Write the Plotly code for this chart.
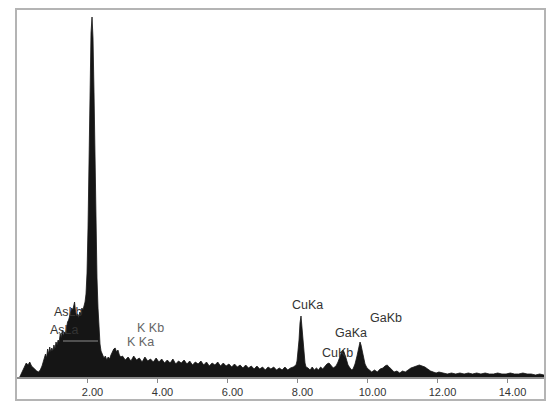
import plotly.graph_objects as go

# Energy (keV) and counts (arbitrary units)
energy_low = [0.05, 0.10, 0.15, 0.20, 0.25, 0.30, 0.35, 0.40, 0.45, 0.50, 0.55, 0.60, 0.65, 0.70,
              0.75, 0.80, 0.83, 0.86, 0.89, 0.92, 0.95, 0.98, 1.01, 1.04, 1.07, 1.10, 1.13, 1.16,
              1.19, 1.22, 1.25, 1.28, 1.31, 1.34, 1.37, 1.40, 1.43, 1.46, 1.49, 1.52, 1.55, 1.58,
              1.61, 1.63, 1.66, 1.69, 1.72, 1.75, 1.78, 1.81, 1.84, 1.87, 1.90]
counts_low = [0, 4, 8, 12, 15, 13, 16, 12, 10, 9, 7, 6, 8, 12,
              18, 24, 20, 29, 24, 31, 26, 30, 27, 33, 29, 36, 33, 38,
              36, 44, 40, 48, 42, 46, 44, 52, 56, 58, 62, 66, 70, 68,
              74, 76, 66, 62, 64, 60, 66, 64, 70, 68, 72]

energy_main = [1.929, 1.957, 1.986, 2.014, 2.043, 2.071, 2.100, 2.129, 2.157, 2.186, 2.214, 2.243,
               2.271, 2.300, 2.329, 2.357, 2.386, 2.43, 2.47, 2.51, 2.55, 2.59, 2.63, 2.67, 2.71,
               2.75, 2.79, 2.83, 2.87, 2.91, 2.95]
counts_main = [76, 84, 105, 150, 220, 300, 345, 361, 340, 285, 215, 150,
               100, 70, 45, 34, 27, 24, 20, 22, 18, 21, 19, 23, 26,
               29, 30, 26, 28, 23, 21]

energy_mid = [3.00, 3.08, 3.16, 3.24, 3.32, 3.40, 3.48, 3.56, 3.64, 3.72, 3.80, 3.88, 3.96, 4.04,
              4.12, 4.20, 4.28, 4.36, 4.44, 4.52, 4.60, 4.68, 4.76, 4.84, 4.92, 5.00, 5.08, 5.16,
              5.24, 5.32, 5.40, 5.48, 5.56, 5.64, 5.72, 5.80, 5.88, 5.96, 6.04, 6.12, 6.20, 6.28,
              6.36, 6.44, 6.52, 6.60, 6.68, 6.76, 6.84, 6.92, 7.00, 7.08, 7.16, 7.24, 7.32, 7.40,
              7.48, 7.56, 7.64, 7.72, 7.80, 7.88, 7.93]
counts_mid = [22, 18, 21, 17, 22, 18, 20, 16, 21, 17, 19, 16, 20, 16,
              19, 15, 18, 15, 19, 14, 17, 15, 18, 14, 17, 13, 16, 14,
              17, 13, 16, 12, 15, 13, 16, 12, 15, 12, 14, 11, 14, 11,
              13, 10, 13, 10, 12, 9, 12, 9, 11, 8, 11, 9, 11, 8,
              10, 8, 11, 8, 10, 11, 12]

energy_high = [7.957, 7.986, 8.014, 8.043, 8.071, 8.100, 8.129, 8.157, 8.186, 8.214, 8.243, 8.30,
               8.36, 8.42, 8.48, 8.54, 8.60, 8.66, 8.72, 8.78, 8.84, 8.90, 8.96, 9.02, 9.06,
               9.10, 9.157, 9.214, 9.271, 9.30, 9.329, 9.386, 9.443, 9.50, 9.55,
               9.586, 9.643, 9.70, 9.757, 9.786, 9.814, 9.871, 9.929, 9.986, 10.05,
               10.12, 10.20, 10.28, 10.36, 10.44, 10.50, 10.56, 10.62, 10.68, 10.76, 10.84, 10.92,
               11.00, 11.08, 11.16, 11.24, 11.32, 11.40, 11.48, 11.56, 11.64, 11.72, 11.80, 11.88,
               11.96, 12.04]
counts_high = [13, 17, 25, 38, 55, 62, 50, 36, 24, 15, 11, 10,
               8, 11, 8, 10, 8, 11, 9, 12, 14, 15, 13, 10, 11,
               12, 16, 22, 27, 28, 26, 20, 13, 10, 8,
               9, 14, 22, 33, 36, 33, 22, 14, 10, 8,
               6, 8, 6, 9, 10, 12, 13, 11, 9, 6, 7, 5,
               7, 6, 8, 10, 11, 12, 13, 12, 11, 9, 7, 6,
               5, 6]

energy_tail = [12.16, 12.28, 12.40, 12.52, 12.64, 12.76, 12.88, 13.00, 13.12, 13.24, 13.36, 13.48,
               13.60, 13.72, 13.84, 13.96, 14.08, 14.20, 14.32, 14.44, 14.56, 14.68, 14.80, 14.92,
               15.04, 15.07]
counts_tail = [5, 4, 5, 4, 5, 4, 5, 4, 5, 4, 5, 4,
               4, 5, 4, 4, 5, 4, 4, 5, 4, 4, 3, 4,
               3, 3]

peak_labels = ["AsLa", "AsLb", "K Ka", "K Kb", "CuKa", "CuKb", "GaKa", "GaKb"]
tick_values = [2, 4, 6, 8, 10, 12, 14]
tick_labels = ["2.00", "4.00", "6.00", "8.00", "10.00", "12.00", "14.00"]

energy = energy_low + energy_main + energy_mid + energy_high + energy_tail
counts = counts_low + counts_main + counts_mid + counts_high + counts_tail

fig = go.Figure()
fig.add_trace(go.Scatter(
    x=energy, y=counts, mode="lines", fill="tozeroy",
    line=dict(color="#151515", width=0.8), fillcolor="#151515",
    hoverinfo="skip", showlegend=False,
))

# label anchors (keV, counts) – left-anchored
label_pos = {
    "AsLa": (0.87, 48, "#333333"),
    "AsLb": (0.98, 66, "#333333"),
    "K Ka": (3.07, 36, "#666666"),
    "K Kb": (3.36, 50, "#666666"),
    "CuKa": (7.79, 73, "#333333"),
    "CuKb": (8.64, 25, "#333333"),
    "GaKa": (9.01, 45, "#333333"),
    "GaKb": (10.01, 60, "#333333"),
}
for name in peak_labels:
    x, y, c = label_pos[name]
    fig.add_annotation(x=x, y=y, text=name, showarrow=False, xanchor="left", yanchor="middle",
                       font=dict(family="Liberation Sans, Arial, sans-serif", size=12.5, color=c))

# faint horizontal marker inside the low-energy fill
fig.add_shape(type="line", xref="x", yref="y", x0=1.30, x1=2.30, y0=37, y1=37,
              line=dict(color="#8c8c8c", width=1))

# outer frame enclosing spectrum and tick labels
fig.add_shape(type="rect", xref="paper", yref="paper", x0=0, x1=1, y0=0, y1=1,
              line=dict(color="#b4b4b4", width=2), fillcolor="rgba(0,0,0,0)", layer="above")

Y_MIN, Y_MAX = -22, 369
fig.update_layout(
    template="none",
    width=548, height=403,
    margin=dict(l=16, r=3, t=9, b=3),
    paper_bgcolor="white", plot_bgcolor="white",
    xaxis=dict(range=[-0.043, 15.071], tickvals=tick_values, ticktext=tick_labels,
               anchor="free", position=(0 - Y_MIN) / (Y_MAX - Y_MIN),
               ticks="outside", ticklen=4, tickcolor="#888888", tickwidth=1,
               showline=True, linecolor="#8a8a8a", linewidth=1.5,
               showgrid=False, zeroline=False, ticklabelshift=5,
               tickfont=dict(family="Liberation Sans, Arial, sans-serif", size=11, color="#333333")),
    yaxis=dict(range=[Y_MIN, Y_MAX], showticklabels=False, showgrid=False, zeroline=False,
               showline=False, ticks=""),
)

fig.write_html("out.html", config={"displayModeBar": False},
               post_script="document.body.style.margin='0';document.body.style.overflow='hidden';")
